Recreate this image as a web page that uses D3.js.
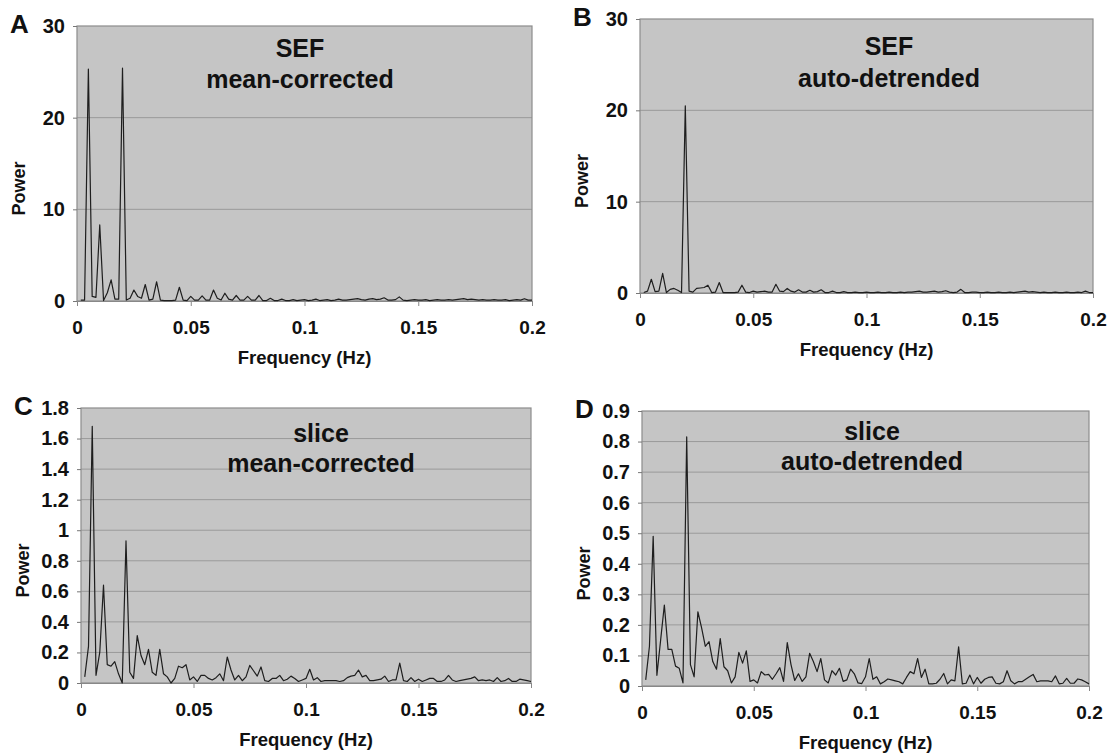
<!DOCTYPE html>
<html>
<head>
<meta charset="utf-8">
<script src="https://cdn.jsdelivr.net/npm/d3@7"></script>
<style>
  body { margin: 0; background: #fff; }
  svg { display: block; font-family: "Liberation Sans", Arial, sans-serif; font-weight: bold; }
</style>
</head>
<body>
<svg id="chart" width="1107" height="755"></svg>
<script>
// frequency bins: k / 600 Hz, k = 1..120
var binHz = 1 / 600;
var xTicks = [0, 0.05, 0.1, 0.15, 0.2];

var sefMeanPower = [
  0.1, 0.1, 25.3, 0.5, 0.4, 8.3, 0.05, 0.9, 2.3, 0.2, 0.2, 25.4, 0.1, 0.3, 1.2, 0.5, 0.3, 1.8, 0.1, 0.2,
  2.1, 0.1, 0.05, 0.05, 0.05, 0.1, 1.5, 0.1, 0.05, 0.5, 0.1, 0.1, 0.55, 0.1, 0.1, 1.2, 0.3, 0.1, 0.85, 0.2,
  0.1, 0.6, 0.1, 0.1, 0.5, 0.1, 0.1, 0.6, 0.05, 0.05, 0.3, 0.05, 0.05, 0.2, 0.05, 0.05, 0.15, 0.05, 0.1, 0.15,
  0.05, 0.1, 0.2, 0.05, 0.1, 0.15, 0.05, 0.1, 0.2, 0.1, 0.1, 0.15, 0.2, 0.25, 0.15, 0.1, 0.2, 0.25, 0.15, 0.2,
  0.35, 0.1, 0.1, 0.15, 0.45, 0.1, 0.05, 0.1, 0.15, 0.1, 0.1, 0.15, 0.05, 0.1, 0.15, 0.1, 0.1, 0.15, 0.1, 0.15,
  0.2, 0.25, 0.15, 0.2, 0.15, 0.1, 0.15, 0.1, 0.1, 0.15, 0.1, 0.1, 0.15, 0.05, 0.1, 0.15, 0.1, 0.25, 0.1, 0.1
];

var sefDetrendPower = [
  0.05, 0.2, 1.5, 0.15, 0.2, 2.15, 0.05, 0.4, 0.5, 0.3, 0.05, 20.5, 0.2, 0.1, 0.5, 0.55, 0.6, 0.85, 0.05, 0.1,
  1.15, 0.05, 0.05, 0.05, 0.05, 0.1, 0.85, 0.1, 0.05, 0.2, 0.1, 0.15, 0.2, 0.1, 0.1, 0.95, 0.2, 0.15, 0.5, 0.2,
  0.1, 0.35, 0.1, 0.1, 0.3, 0.1, 0.15, 0.35, 0.05, 0.05, 0.2, 0.05, 0.05, 0.15, 0.05, 0.05, 0.1, 0.05, 0.05, 0.1,
  0.05, 0.05, 0.1, 0.05, 0.05, 0.1, 0.05, 0.05, 0.1, 0.05, 0.1, 0.1, 0.15, 0.2, 0.1, 0.1, 0.15, 0.2, 0.1, 0.15,
  0.25, 0.1, 0.05, 0.1, 0.4, 0.05, 0.05, 0.1, 0.1, 0.05, 0.05, 0.1, 0.05, 0.05, 0.1, 0.05, 0.05, 0.1, 0.05, 0.1,
  0.15, 0.2, 0.1, 0.15, 0.1, 0.05, 0.1, 0.05, 0.05, 0.1, 0.05, 0.05, 0.1, 0.05, 0.05, 0.1, 0.05, 0.2, 0.05, 0.05
];

var sliceMeanPower = [
  0.04, 0.24, 1.68, 0.05, 0.2, 0.64, 0.12, 0.11, 0.14, 0.06, 0.0, 0.93, 0.07, 0.03, 0.31, 0.18, 0.12, 0.22, 0.07, 0.05,
  0.22, 0.06, 0.04, 0.0, 0.03, 0.11, 0.1, 0.12, 0.02, 0.04, 0.01, 0.05, 0.05, 0.03, 0.02, 0.035, 0.06, 0.015, 0.17, 0.085,
  0.02, 0.05, 0.015, 0.04, 0.115, 0.08, 0.045, 0.105, 0.015, 0.01, 0.03, 0.03, 0.05, 0.015, 0.025, 0.045, 0.03, 0.01, 0.02, 0.03,
  0.09, 0.02, 0.035, 0.01, 0.015, 0.015, 0.015, 0.015, 0.01, 0.015, 0.035, 0.045, 0.05, 0.085, 0.04, 0.05, 0.015, 0.015, 0.02, 0.025,
  0.045, 0.01, 0.02, 0.02, 0.13, 0.015, 0.01, 0.035, 0.01, 0.025, 0.01, 0.02, 0.03, 0.03, 0.01, 0.01, 0.02, 0.05, 0.02, 0.01,
  0.015, 0.02, 0.025, 0.03, 0.04, 0.015, 0.02, 0.015, 0.02, 0.01, 0.035, 0.01, 0.015, 0.03, 0.01, 0.01, 0.025, 0.02, 0.015, 0.01
];

var sliceDetrendPower = [
  0.02, 0.13, 0.49, 0.035, 0.15, 0.265, 0.12, 0.12, 0.065, 0.058, 0.01, 0.815, 0.07, 0.03, 0.243, 0.19, 0.13, 0.145, 0.08, 0.055,
  0.155, 0.063, 0.05, 0.01, 0.03, 0.11, 0.075, 0.115, 0.015, 0.02, 0.01, 0.047, 0.036, 0.038, 0.022, 0.04, 0.06, 0.015, 0.142, 0.07,
  0.018, 0.04, 0.015, 0.03, 0.107, 0.08, 0.047, 0.09, 0.02, 0.01, 0.05, 0.036, 0.058, 0.015, 0.02, 0.055, 0.04, 0.01, 0.008, 0.03,
  0.09, 0.022, 0.03, 0.007, 0.014, 0.023, 0.02, 0.017, 0.014, 0.007, 0.028, 0.047, 0.04, 0.09, 0.028, 0.055, 0.007, 0.007, 0.009, 0.022,
  0.041, 0.007, 0.02, 0.017, 0.128, 0.007, 0.009, 0.036, 0.007, 0.028, 0.009, 0.022, 0.028, 0.03, 0.009, 0.007, 0.014, 0.05, 0.017, 0.007,
  0.014, 0.014, 0.022, 0.03, 0.038, 0.014, 0.017, 0.017, 0.017, 0.014, 0.033, 0.007, 0.009, 0.025, 0.009, 0.009, 0.023, 0.02, 0.014, 0.007
];

var sefTicks = [0, 10, 20, 30];
var sliceMeanTicks = [0, 0.2, 0.4, 0.6, 0.8, 1, 1.2, 1.4, 1.6, 1.8];
var sliceDetrendTicks = [0, 0.1, 0.2, 0.3, 0.4, 0.5, 0.6, 0.7, 0.8, 0.9];

var panels = [
  { letter: "A", title: ["SEF", "mean-corrected"], values: sefMeanPower, ticks: sefTicks,
    box: { left: 77, right: 532, top: 26, bottom: 301 }, titleX: 300, titleY: [57, 88] },
  { letter: "B", title: ["SEF", "auto-detrended"], values: sefDetrendPower, ticks: sefTicks,
    box: { left: 640, right: 1093, top: 19, bottom: 293 }, titleX: 889, titleY: [55, 87] },
  { letter: "C", title: ["slice", "mean-corrected"], values: sliceMeanPower, ticks: sliceMeanTicks,
    box: { left: 81, right: 531, top: 408, bottom: 683 }, titleX: 321, titleY: [442, 472] },
  { letter: "D", title: ["slice", "auto-detrended"], values: sliceDetrendPower, ticks: sliceDetrendTicks,
    box: { left: 642, right: 1089, top: 411, bottom: 686 }, titleX: 872, titleY: [440, 470] }
];

var svg = d3.select("#chart");

function numLabel(d) {
  return String(+d.toFixed(2));
}

function drawPanel(p) {
  var b = p.box;
  var x = d3.scaleLinear().domain([0, 0.2]).range([b.left, b.right]);
  var y = d3.scaleLinear().domain([0, p.ticks[p.ticks.length - 1]]).range([b.bottom, b.top]);
  var g = svg.append("g");

  // plot area
  g.append("rect")
    .attr("x", b.left).attr("y", b.top)
    .attr("width", b.right - b.left).attr("height", b.bottom - b.top)
    .attr("fill", "#c5c5c5");

  g.selectAll(".grid").data(p.ticks.slice(1, -1)).enter().append("line")
    .attr("x1", b.left).attr("x2", b.right)
    .attr("y1", function (d) { return y(d); }).attr("y2", function (d) { return y(d); })
    .attr("stroke", "#9a9a9a").attr("stroke-width", 1);

  g.append("rect")
    .attr("x", b.left).attr("y", b.top)
    .attr("width", b.right - b.left).attr("height", b.bottom - b.top)
    .attr("fill", "none").attr("stroke", "#8c8c8c").attr("stroke-width", 1.2);

  var yAxis = g.append("g")
    .attr("transform", "translate(" + b.left + ",0)")
    .call(d3.axisLeft(y).tickValues(p.ticks).tickSize(4).tickPadding(8).tickFormat(numLabel));
  yAxis.select(".domain").remove();
  yAxis.selectAll("line").attr("stroke", "#777");
  yAxis.selectAll("text").attr("fill", "#111").style("font-size", "20px").style("font-family", null);

  var xAxis = g.append("g")
    .attr("transform", "translate(0," + b.bottom + ")")
    .call(d3.axisBottom(x).tickValues(xTicks).tickSize(5).tickPadding(15).tickFormat(numLabel));
  xAxis.select(".domain").attr("stroke", "#888");
  xAxis.selectAll("line").attr("stroke", "#888");
  xAxis.selectAll("text").attr("fill", "#111").style("font-size", "19px").style("font-family", null);

  // spectrum
  var line = d3.line()
    .x(function (d, i) { return x((i + 1) * binHz); })
    .y(function (d) { return y(d); });
  g.append("path")
    .datum(p.values)
    .attr("d", line)
    .attr("fill", "none")
    .attr("stroke", "#1e1e1e")
    .attr("stroke-width", 1.2)
    .attr("stroke-linejoin", "round");

  // titles and labels
  p.title.forEach(function (t, i) {
    g.append("text")
      .attr("x", p.titleX).attr("y", p.titleY[i])
      .attr("text-anchor", "middle")
      .style("font-size", "25px")
      .attr("fill", "#111")
      .text(t);
  });

  g.append("text")
    .attr("x", b.left - 67).attr("y", b.top + 7)
    .style("font-size", "26px")
    .attr("fill", "#111")
    .text(p.letter);

  g.append("text")
    .attr("transform", "translate(" + (b.left - 52) + "," + ((b.top + b.bottom) / 2 + 25) + ") rotate(-90)")
    .attr("text-anchor", "middle")
    .style("font-size", "18px")
    .attr("fill", "#111")
    .text("Power");

  g.append("text")
    .attr("x", (b.left + b.right) / 2).attr("y", b.bottom + 63)
    .attr("text-anchor", "middle")
    .style("font-size", "18.5px")
    .attr("fill", "#111")
    .text("Frequency (Hz)");
}

panels.forEach(drawPanel);
</script>
</body>
</html>
